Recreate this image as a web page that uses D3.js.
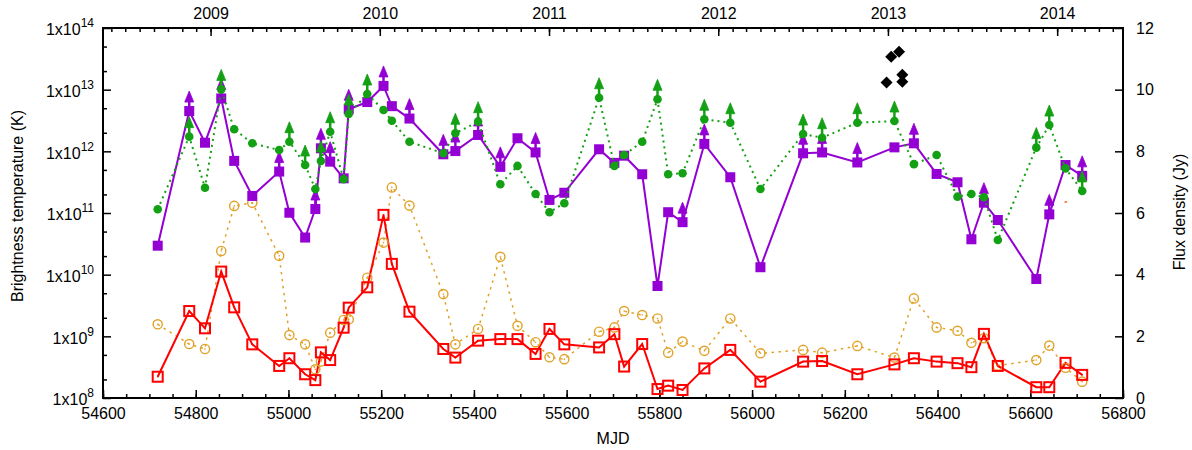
<!DOCTYPE html>
<html><head><meta charset="utf-8">
<script src="https://cdn.jsdelivr.net/npm/d3@7/dist/d3.min.js"></script>
<style>
body{margin:0;background:#fff}
svg{display:block}
text{font-family:"Liberation Sans",Arial,Helvetica,sans-serif;fill:#000}
</style>
</head><body>
<svg id="c" width="1192" height="450"></svg>
<script>
// ---------- data ----------
const mjd = [54718,54786,54820,54855,54883,54922,54980,55002,55036,55058,55070,55090,55119,55130,55170,55205,55223,55261,55334,55360,
             55409,55457,55494,55533,55563,55595,55670,55703,55724,55763,55796,55819,55850,55897,55953,56018,56110,56151,56227,56307,
             56349,56398,56443,56473,56500,56530,56613,56641,56676,56712];
const tbPurple = [2.95e10,4.5e12,1.38e12,7.2e12,7.0e11,1.89e11,4.7e11,1.01e11,4.0e10,1.16e11,1.12e12,6.8e11,3.65e11,4.8e12,6.3e12,1.15e13,5.4e12,3.4e12,8.95e11,1.01e12,
                  1.84e12,5.6e11,1.63e12,9.6e11,1.63e11,2.13e11,1.08e12,6.5e11,8.5e11,4.25e11,6.55e9,1.03e11,7.1e10,1.32e12,3.8e11,1.32e10,9.3e11,9.6e11,6.6e11,1.16e12,
                  1.35e12,4.3e11,3.15e11,3.75e10,1.47e11,7.7e10,8.5e9,9.5e10,6.0e11,4.0e11];
const purpleLimit = [0,1,0,1,0,0,1,0,0,1,1,1,0,1,0,1,0,1,1,1,
                     1,1,0,1,0,0,0,0,0,0,0,0,1,1,0,0,1,1,1,0,
                     1,0,0,0,1,0,0,1,0,1];
const tbGreen = [1.15e11,1.73e12,2.57e11,1.01e13,2.28e12,1.35e12,1.05e12,1.43e12,6.0e11,2.45e11,6.97e11,2.08e12,3.52e11,4.03e12,8.5e12,4.68e12,3.14e12,1.43e12,9.3e11,1.96e12,
                 3.03e12,2.92e11,5.8e11,2.03e11,1.03e11,1.44e11,7.4e12,5.8e11,8.7e11,1.43e12,6.98e12,4.25e11,4.4e11,3.31e12,2.91e12,2.45e11,1.91e12,1.66e12,2.91e12,3.1e12,
                 6.2e11,8.7e11,1.84e11,2.03e11,1.8e11,3.65e10,1.15e12,2.67e12,5.3e11,2.28e11];
const greenLimit = [0,1,0,1,0,0,0,1,1,0,1,1,0,1,1,0,0,0,0,1,
                    1,0,0,0,0,0,1,0,0,0,1,0,0,1,1,0,1,1,1,1,
                    0,0,0,0,0,0,1,1,0,1];
const fluxRed = [0.69,2.82,2.26,4.10,2.94,1.74,1.04,1.29,0.77,0.58,1.48,1.23,2.28,2.93,3.59,5.94,4.35,2.80,1.59,1.31,
                 1.86,1.91,1.91,1.43,2.24,1.74,1.64,2.07,1.02,1.75,0.29,0.40,0.26,0.96,1.56,0.53,1.18,1.20,0.77,1.09,
                 1.29,1.18,1.13,1.00,2.08,1.04,0.35,0.35,1.14,0.75];
const fluxOrange = [2.39,1.75,1.59,4.77,6.23,6.33,4.61,2.04,1.74,0.93,1.18,2.12,2.53,2.55,3.90,5.04,6.83,6.24,3.37,1.74,
                    2.24,4.58,2.34,1.81,1.32,1.26,2.15,2.29,2.82,2.69,2.58,1.47,1.83,1.53,2.58,1.45,1.56,1.47,1.69,1.31,
                    3.23,2.29,2.18,1.79,1.94,1.05,1.23,1.70,0.98,0.53];
const diamondMjd = [56290,56300,56317,56324,56324];
const diamondFlux = [10.23,11.07,11.23,10.48,10.26];
const strayMjd = [56676];
const strayFlux = [6.35];

const xTickValues = [54600,54800,55000,55200,55400,55600,55800,56000,56200,56400,56600,56800];
const yearLabels = ["2009","2010","2011","2012","2013","2014"];
const leftTickValues = [1e8,1e9,1e10,1e11,1e12,1e13,1e14];
const rightTickValues = [0,2,4,6,8,10,12];

// ---------- layout ----------
const L = 103, R = 1123, T = 28, B = 398;
const svg = d3.select("#c");
const x = d3.scaleLinear().domain([54600,56800]).range([L,R]);
const yL = d3.scaleLog().domain([1e8,1e14]).range([B,T]);
const yR = d3.scaleLinear().domain([0,12]).range([B,T]);

const toMjd = d => d.getTime()/86400000 + 40587;
const yearTicks = yearLabels.map(y => toMjd(new Date(Date.UTC(+y,0,1))));
const monthTicks = d3.utcMonth.range(new Date(Date.UTC(2008,5,1)), new Date(Date.UTC(2014,7,1)))
  .map(toMjd).filter(v => v >= 54600 && v <= 56800);
const xMinor = d3.range(54600, 56801, 50);
const leftMinor = [];
for (let e = 8; e < 14; e++) { leftMinor.push(2*Math.pow(10,e), 5*Math.pow(10,e)); }

const FS = "16px";
function styleAxis(g){
  g.select(".domain").remove();
  g.selectAll(".tick line").attr("stroke","#000").attr("stroke-width",1.5);
  g.selectAll("text").attr("font-size",FS).attr("font-family",'"Liberation Sans",Arial,sans-serif').attr("fill","#000");
}

// bottom
svg.append("g").attr("transform",`translate(0,${B})`)
  .call(d3.axisBottom(x).tickValues(xMinor).tickSize(-4).tickFormat(""))
  .call(styleAxis);
svg.append("g").attr("transform",`translate(0,${B})`)
  .call(d3.axisBottom(x).tickValues(xTickValues).tickSize(-8).tickPadding(10).tickFormat(d3.format("d")))
  .call(styleAxis);
// top
svg.append("g").attr("transform",`translate(0,${T})`)
  .call(d3.axisTop(x).tickValues(monthTicks).tickSize(-4).tickFormat(""))
  .call(styleAxis);
svg.append("g").attr("transform",`translate(0,${T})`)
  .call(d3.axisTop(x).tickValues(yearTicks).tickSize(-8).tickPadding(9.5).tickFormat((d,i)=>yearLabels[i]))
  .call(styleAxis);
// left
svg.append("g").attr("transform",`translate(${L},0)`)
  .call(d3.axisLeft(yL).tickValues(leftMinor).tickSize(-4).tickFormat(""))
  .call(styleAxis);
const gl = svg.append("g").attr("transform",`translate(${L},0)`)
  .call(d3.axisLeft(yL).tickValues(leftTickValues).tickSize(-8).tickPadding(9).tickFormat(d=>"1x10"))
  .call(styleAxis);
gl.selectAll(".tick text").each(function(d){
  const t = d3.select(this);
  t.text(null);
  t.append("tspan").text("1x10");
  t.append("tspan").attr("dy","-8px").attr("font-size","12px").text(Math.round(Math.log10(d)));
}).attr("dy","0.42em");
// right
svg.append("g").attr("transform",`translate(${R},0)`)
  .call(d3.axisRight(yR).tickValues(rightTickValues).tickSize(-8).tickPadding(13).tickFormat(d3.format("d")))
  .call(styleAxis);

// frame
svg.append("rect").attr("x",L).attr("y",T).attr("width",R-L).attr("height",B-T)
  .attr("fill","none").attr("stroke","#000").attr("stroke-width",2);

// titles
svg.append("text").attr("transform",`translate(23,206) rotate(-90)`).attr("text-anchor","middle")
  .attr("font-size",FS).text("Brightness temperature (K)");
svg.append("text").attr("transform",`translate(1185,212) rotate(-90)`).attr("text-anchor","middle")
  .attr("font-size",FS).text("Flux density (Jy)");
svg.append("text").attr("x",613).attr("y",444).attr("text-anchor","middle")
  .attr("font-size",FS).text("MJD");

// ---------- series ----------
const PURPLE = "#9400d3", GREEN = "#14a014", RED = "#ff0000", ORANGE = "#e0a228";
const plot = svg.append("g");

const idx = d3.range(mjd.length);

// orange dotted + circles (right axis)
plot.append("path").datum(idx)
  .attr("d", d3.line().x(i=>x(mjd[i])).y(i=>yR(fluxOrange[i])))
  .attr("fill","none").attr("stroke",ORANGE).attr("stroke-width",1.5).attr("stroke-dasharray","2.5,4.5");
// red solid (right axis)
plot.append("path").datum(idx)
  .attr("d", d3.line().x(i=>x(mjd[i])).y(i=>yR(fluxRed[i])))
  .attr("fill","none").attr("stroke",RED).attr("stroke-width",2);
plot.selectAll(".oc").data(idx).join("circle")
  .attr("cx",i=>x(mjd[i])).attr("cy",i=>yR(fluxOrange[i])).attr("r",4.6)
  .attr("fill","none").attr("stroke",ORANGE).attr("stroke-width",1.4);
plot.selectAll(".od").data(idx).join("circle")
  .attr("cx",i=>x(mjd[i])).attr("cy",i=>yR(fluxOrange[i])).attr("r",0.8).attr("fill",ORANGE);
plot.selectAll(".rs").data(idx).join("rect")
  .attr("x",i=>x(mjd[i])-5).attr("y",i=>yR(fluxRed[i])-5).attr("width",10).attr("height",10)
  .attr("fill","none").attr("stroke",RED).attr("stroke-width",2);
plot.selectAll(".rd").data(idx).join("circle")
  .attr("cx",i=>x(mjd[i])).attr("cy",i=>yR(fluxRed[i])).attr("r",0.8).attr("fill",RED);

// arrows helper
function arrows(vals, lim, color){
  const sel = idx.filter(i=>lim[i]);
  plot.selectAll(null).data(sel).join("line")
    .attr("x1",i=>x(mjd[i])).attr("x2",i=>x(mjd[i]))
    .attr("y1",i=>yL(vals[i])).attr("y2",i=>yL(vals[i])-12)
    .attr("stroke",color).attr("stroke-width",2.5);
  plot.selectAll(null).data(sel).join("path")
    .attr("d",i=>{const cx=x(mjd[i]), cy=yL(vals[i]);
      return `M${cx},${cy-20}L${cx-4.5},${cy-9}L${cx+4.5},${cy-9}Z`;})
    .attr("fill",color).attr("stroke",color).attr("stroke-width",0.8);
}

// purple solid + squares (left axis)
plot.append("path").datum(idx)
  .attr("d", d3.line().x(i=>x(mjd[i])).y(i=>yL(tbPurple[i])))
  .attr("fill","none").attr("stroke",PURPLE).attr("stroke-width",2);
arrows(tbPurple, purpleLimit, PURPLE);
plot.selectAll(".ps").data(idx).join("rect")
  .attr("x",i=>x(mjd[i])-5).attr("y",i=>yL(tbPurple[i])-5).attr("width",10).attr("height",10)
  .attr("fill",PURPLE);

// green dotted + circles (left axis)
plot.append("path").datum(idx)
  .attr("d", d3.line().x(i=>x(mjd[i])).y(i=>yL(tbGreen[i])))
  .attr("fill","none").attr("stroke",GREEN).attr("stroke-width",2).attr("stroke-dasharray","2,4");
arrows(tbGreen, greenLimit, GREEN);
plot.selectAll(".gc").data(idx).join("circle")
  .attr("cx",i=>x(mjd[i])).attr("cy",i=>yL(tbGreen[i])).attr("r",4.3)
  .attr("fill",GREEN);

// black diamonds (right axis)
plot.selectAll(".dm").data(d3.range(diamondMjd.length)).join("path")
  .attr("d",i=>{const cx=x(diamondMjd[i]), cy=yR(diamondFlux[i]), h=6;
    return `M${cx},${cy-h}L${cx+h},${cy}L${cx},${cy+h}L${cx-h},${cy}Z`;})
  .attr("fill","#000");

// stray tiny point
plot.selectAll(".st").data(d3.range(strayMjd.length)).join("rect")
  .attr("x",i=>x(strayMjd[i])-1).attr("y",i=>yR(strayFlux[i])-1).attr("width",2.5).attr("height",1.5)
  .attr("fill","#ff5a1a");
</script>
</body></html>
